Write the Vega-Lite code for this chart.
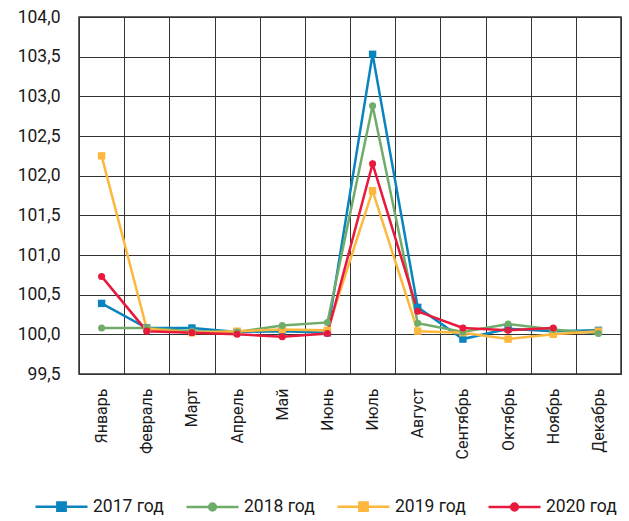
{
  "$schema": "https://vega.github.io/schema/vega-lite/v6.json",
  "width": 542,
  "height": 357,
  "autosize": {"type": "none"},
  "padding": {"left": 79, "top": 17, "right": 8, "bottom": 147},
  "background": "white",
  "config": {
    "font": "Roboto",
    "view": {"stroke": "#333", "strokeWidth": 1.5}
  },
  "data": {
    "values": [
      {"m": "Январь", "y": "2017 год", "v": 100.39},
      {"m": "Февраль", "y": "2017 год", "v": 100.08},
      {"m": "Март", "y": "2017 год", "v": 100.08},
      {"m": "Апрель", "y": "2017 год", "v": 100.03},
      {"m": "Май", "y": "2017 год", "v": 100.04},
      {"m": "Июнь", "y": "2017 год", "v": 100.02},
      {"m": "Июль", "y": "2017 год", "v": 103.53},
      {"m": "Август", "y": "2017 год", "v": 100.34},
      {"m": "Сентябрь", "y": "2017 год", "v": 99.94},
      {"m": "Октябрь", "y": "2017 год", "v": 100.07},
      {"m": "Ноябрь", "y": "2017 год", "v": 100.04},
      {"m": "Декабрь", "y": "2017 год", "v": 100.05},
      {"m": "Январь", "y": "2018 год", "v": 100.08},
      {"m": "Февраль", "y": "2018 год", "v": 100.08},
      {"m": "Март", "y": "2018 год", "v": 100.04},
      {"m": "Апрель", "y": "2018 год", "v": 100.03},
      {"m": "Май", "y": "2018 год", "v": 100.11},
      {"m": "Июнь", "y": "2018 год", "v": 100.15},
      {"m": "Июль", "y": "2018 год", "v": 102.88},
      {"m": "Август", "y": "2018 год", "v": 100.14},
      {"m": "Сентябрь", "y": "2018 год", "v": 100.03},
      {"m": "Октябрь", "y": "2018 год", "v": 100.13},
      {"m": "Ноябрь", "y": "2018 год", "v": 100.06},
      {"m": "Декабрь", "y": "2018 год", "v": 100.01},
      {"m": "Январь", "y": "2019 год", "v": 102.25},
      {"m": "Февраль", "y": "2019 год", "v": 100.07},
      {"m": "Март", "y": "2019 год", "v": 100.02},
      {"m": "Апрель", "y": "2019 год", "v": 100.04},
      {"m": "Май", "y": "2019 год", "v": 100.06},
      {"m": "Июнь", "y": "2019 год", "v": 100.05},
      {"m": "Июль", "y": "2019 год", "v": 101.81},
      {"m": "Август", "y": "2019 год", "v": 100.04},
      {"m": "Сентябрь", "y": "2019 год", "v": 100.02},
      {"m": "Октябрь", "y": "2019 год", "v": 99.94},
      {"m": "Ноябрь", "y": "2019 год", "v": 100.0},
      {"m": "Декабрь", "y": "2019 год", "v": 100.04},
      {"m": "Январь", "y": "2020 год", "v": 100.73},
      {"m": "Февраль", "y": "2020 год", "v": 100.04},
      {"m": "Март", "y": "2020 год", "v": 100.02},
      {"m": "Апрель", "y": "2020 год", "v": 100.0},
      {"m": "Май", "y": "2020 год", "v": 99.97},
      {"m": "Июнь", "y": "2020 год", "v": 100.01},
      {"m": "Июль", "y": "2020 год", "v": 102.15},
      {"m": "Август", "y": "2020 год", "v": 100.29},
      {"m": "Сентябрь", "y": "2020 год", "v": 100.08},
      {"m": "Октябрь", "y": "2020 год", "v": 100.05},
      {"m": "Ноябрь", "y": "2020 год", "v": 100.08}
    ]
  },
  "encoding": {
    "x": {
      "field": "m",
      "type": "nominal",
      "sort": null,
      "bandPosition": 0.5,
      "scale": {"type": "band", "paddingInner": 0, "paddingOuter": 0},
      "axis": {
        "title": null,
        "tickBand": "extent",
        "grid": true,
        "gridColor": "#333",
        "gridWidth": 1,
        "gridOpacity": 1,
        "ticks": false,
        "domain": false,
        "labelAngle": -90,
        "labelPadding": 14,
        "labelFontSize": 16,
        "labelColor": "#1a1a1a"
      }
    },
    "y": {
      "field": "v",
      "type": "quantitative",
      "scale": {"domain": [99.5, 104], "zero": false, "nice": false},
      "axis": {
        "title": null,
        "values": [99.5, 100, 100.5, 101, 101.5, 102, 102.5, 103, 103.5, 104],
        "labelExpr": "replace(format(datum.value, '.1f'), '.', ',')",
        "grid": true,
        "gridColor": "#333",
        "gridWidth": 1,
        "gridOpacity": 1,
        "ticks": false,
        "domain": false,
        "labelPadding": 19,
        "labelFontSize": 17.5,
        "labelColor": "#1a1a1a"
      }
    },
    "color": {
      "field": "y",
      "type": "nominal",
      "scale": {
        "domain": ["2017 год", "2018 год", "2019 год", "2020 год"],
        "range": ["#0a84bf", "#6fac6a", "#fdb73d", "#e8193c"]
      },
      "legend": {
        "title": null,
        "orient": "none",
        "direction": "horizontal",
        "legendX": -45,
        "legendY": 462,
        "padding": 0,
        "columns": 4,
        "gridAlign": "all",
        "columnPadding": 17,
        "symbolSize": 2704,
        "symbolStrokeWidth": 2.5,
        "labelFontSize": 17.5,
        "labelOffset": 4,
        "labelColor": "#1a1a1a",
        "encode": {
          "symbols": {
            "update": {
              "shape": {"signal": "(datum.value == '2017 год' || datum.value == '2019 год') ? 'M-1,0H1M-0.16,-0.16H0.16V0.16H-0.16Z' : 'M-1,0H1M0.13,0A0.13,0.13,0,1,1,-0.13,0A0.13,0.13,0,1,1,0.13,0Z'"},
              "fill": {"signal": "scale('color', datum.value)"},
              "stroke": {"signal": "scale('color', datum.value)"},
              "strokeWidth": {"value": 2.5},
              "opacity": {"value": 1}
            }
          }
        }
      }
    }
  },
  "layer": [
    {
      "mark": {"type": "line", "strokeWidth": 2.5}
    },
    {
      "transform": [{"filter": "datum.y == '2017 год' || datum.y == '2019 год'"}],
      "mark": {"type": "point", "shape": "square", "filled": true, "opacity": 1, "size": 55}
    },
    {
      "transform": [{"filter": "datum.y == '2018 год' || datum.y == '2020 год'"}],
      "mark": {"type": "point", "shape": "circle", "filled": true, "opacity": 1, "size": 50}
    }
  ]
}
